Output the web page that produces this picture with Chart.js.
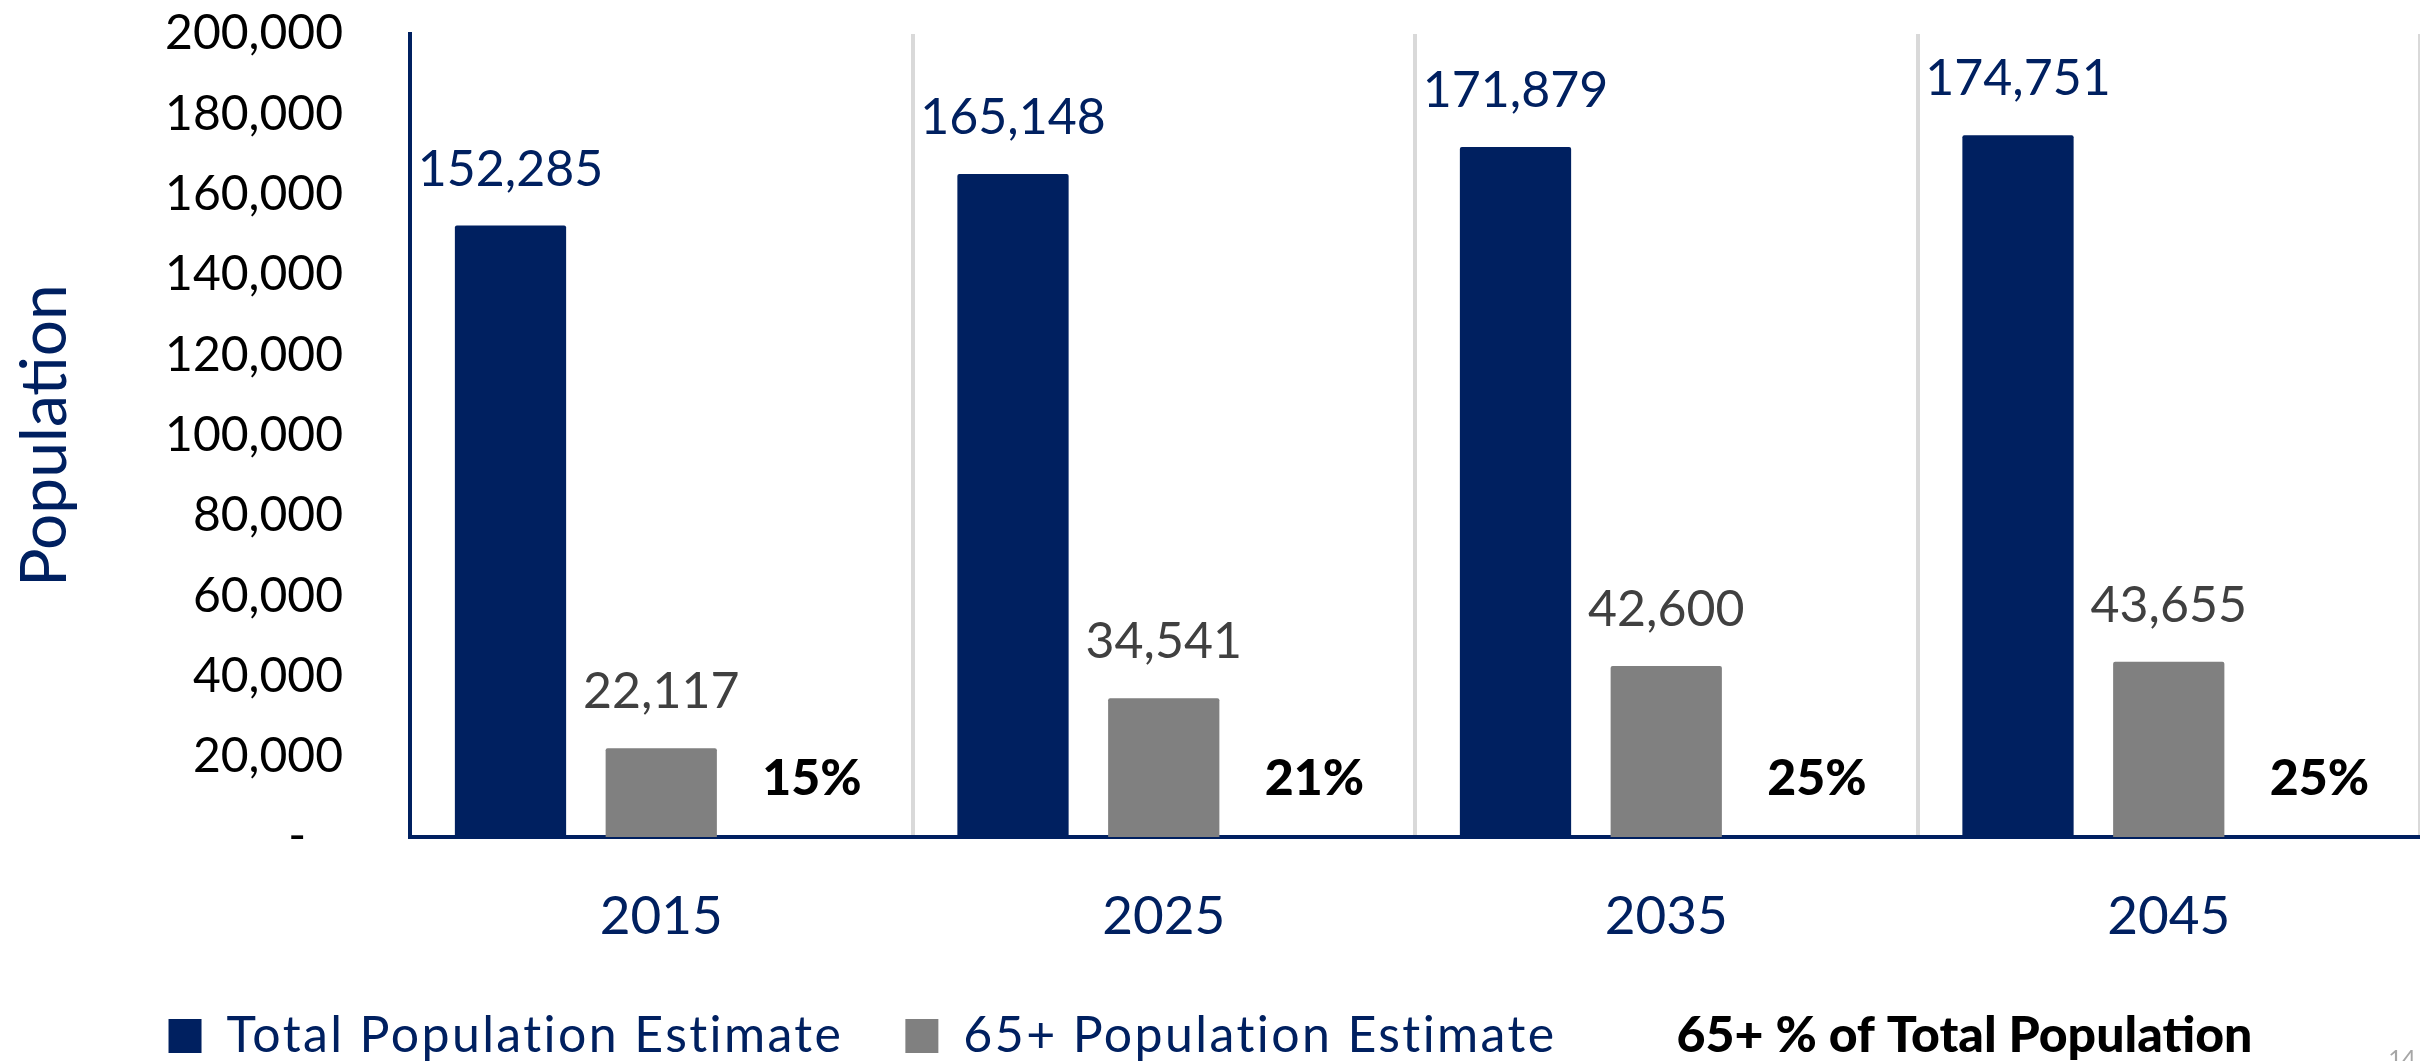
<!DOCTYPE html>
<html>
<head>
<meta charset="utf-8">
<title>Population Estimates</title>
<script src="https://cdn.jsdelivr.net/npm/chart.js@4/dist/chart.umd.min.js"></script>
<style>
  html, body { margin: 0; padding: 0; background: #ffffff; }
  #wrap { width: 2420px; height: 1061px; position: relative; }
</style>
</head>
<body>
<div id="wrap"><canvas id="popChart"></canvas></div>
<script>
// Categories and series
const years = ['2015', '2025', '2035', '2045'];
const totalPopulation = [152285, 165148, 171879, 174751];
const seniorPopulation = [22117, 34541, 42600, 43655];
const seniorShare = [15, 21, 25, 25];
const seriesNames = ['Total Population Estimate', '65+ Population Estimate', '65+ % of Total Population'];

// Axis range
const yMin = 0;
const yMax = 200000;
const yStep = 20000;

const NAVY = '#002060';
const GRAY = '#808080';
const LABEL_GRAY = '#404040';
const FONT = 'Lato';
const HEAVY = '900';

Chart.defaults.font.family = FONT;

// Value labels above the population bars and percentage labels near the base
const valueLabels = {
  id: 'valueLabels',
  afterDatasetsDraw(chart) {
    const ctx = chart.ctx;
    ctx.save();
    ctx.textAlign = 'center';
    ctx.textBaseline = 'alphabetic';
    chart.data.datasets.forEach((ds, di) => {
      const meta = chart.getDatasetMeta(di);
      meta.data.forEach((bar, i) => {
        const v = ds.data[i];
        if (ds.isShare) {
          ctx.font = HEAVY + ' 50px ' + FONT;
          ctx.fillStyle = '#000000';
          ctx.fillText(v + '%', bar.x, bar.base - 42);
        } else {
          ctx.font = '50px ' + FONT;
          ctx.fillStyle = ds.labelColor;
          ctx.fillText(v.toLocaleString('en-US'), bar.x, bar.y - 40);
        }
      });
    });
    ctx.restore();
  }
};

// Legend text: slightly tracked lettering, share entry in heavy weight
const legendStyling = {
  id: 'legendStyling',
  afterInit(chart) {
    const legend = chart.legend;
    if (!legend) return;
    const TRACKING = '2.4px';
    const baseFit = legend.fit;
    legend.fit = function () {
      const ctx = this.ctx;
      const prev = ctx.letterSpacing;
      ctx.letterSpacing = TRACKING;
      try { baseFit.apply(this, arguments); } finally { ctx.letterSpacing = prev || '0px'; }
    };
    const baseDraw = legend.draw;
    legend.draw = function () {
      const ctx = this.ctx;
      const items = this.legendItems || [];
      const baseFill = ctx.fillText;
      const prevSpacing = ctx.letterSpacing;
      ctx.letterSpacing = TRACKING;
      ctx.fillText = function (text) {
        const item = items.find(it => it.text === text);
        if (item && item.bold) {
          const prevFont = this.font;
          const prevLs = this.letterSpacing;
          this.font = HEAVY + ' ' + prevFont;
          this.letterSpacing = '0px';
          baseFill.apply(this, arguments);
          this.font = prevFont;
          this.letterSpacing = prevLs;
        } else {
          baseFill.apply(this, arguments);
        }
      };
      try {
        baseDraw.apply(this, arguments);
      } finally {
        delete ctx.fillText;
        ctx.letterSpacing = prevSpacing || '0px';
      }
    };
  }
};

// Slide page number in the lower right corner
const pageNumber = {
  id: 'pageNumber',
  afterDraw(chart) {
    const ctx = chart.ctx;
    ctx.save();
    ctx.font = '24px ' + FONT;
    ctx.fillStyle = '#A6A6A6';
    ctx.textAlign = 'right';
    ctx.textBaseline = 'alphabetic';
    ctx.fillText('14', chart.width - 4, chart.height + 6);
    ctx.restore();
  }
};

new Chart(document.getElementById('popChart'), {
  type: 'bar',
  data: {
    labels: years,
    datasets: [
      {
        label: seriesNames[0],
        data: totalPopulation,
        backgroundColor: NAVY,
        borderWidth: 0,
        borderRadius: 2,
        labelColor: NAVY,
        yAxisID: 'y'
      },
      {
        label: seriesNames[1],
        data: seniorPopulation,
        backgroundColor: GRAY,
        borderWidth: 0,
        borderRadius: 2,
        labelColor: LABEL_GRAY,
        yAxisID: 'y'
      },
      {
        label: seriesNames[2],
        data: seniorShare,
        backgroundColor: 'rgba(0,0,0,0)',
        borderWidth: 0,
        isShare: true,
        yAxisID: 'yShare'
      }
    ]
  },
  options: {
    responsive: true,
    maintainAspectRatio: false,
    animation: false,
    devicePixelRatio: 1,
    categoryPercentage: 0.90,
    barPercentage: 0.738,
    layout: { padding: { top: 34, right: 0, bottom: -10, left: 50 } },
    scales: {
      x: {
        z: 1,
        offset: true,
        grid: {
          display: true,
          offset: true,
          drawTicks: false,
          lineWidth: 4,
          color: (c) => (c.index === 0 || c.index === years.length) ? 'rgba(0,0,0,0)' : '#D9D9D9'
        },
        border: { display: true, color: NAVY, width: 4 },
        ticks: {
          color: NAVY,
          font: { family: FONT, size: 53 },
          padding: 48
        },
        afterFit(scale) { scale.height = 112; }
      },
      y: {
        min: yMin,
        max: yMax,
        grid: { display: false, drawTicks: true, tickLength: 64 },
        border: { display: true, color: NAVY, width: 4 },
        ticks: {
          stepSize: yStep,
          color: '#000000',
          font: { family: FONT, size: 48 },
          padding: 3,
          callback: (v) => v === 0 ? '-   ' : Number(v).toLocaleString('en-US')
        },
        title: {
          display: true,
          text: 'Population',
          color: NAVY,
          font: { family: FONT, size: 64 },
          padding: { top: -43, bottom: 0 }
        },
        afterFit(scale) { scale.width = 360; }
      },
      yShare: {
        display: false,
        min: 0,
        max: 100,
        grid: { display: false }
      }
    },
    plugins: {
      tooltip: { enabled: false },
      legend: {
        display: true,
        position: 'bottom',
        align: 'center',
        labels: {
          boxWidth: 33,
          boxHeight: 34,
          padding: 62,
          color: NAVY,
          font: { family: FONT, size: 50 },
          generateLabels(chart) {
            const base = Chart.defaults.plugins.legend.labels.generateLabels(chart);
            return base.map((item) => {
              const ds = chart.data.datasets[item.datasetIndex];
              if (ds.isShare) {
                item.fillStyle = 'rgba(0,0,0,0)';
                item.strokeStyle = 'rgba(0,0,0,0)';
                item.lineWidth = 0;
                item.fontColor = '#000000';
                item.bold = true;
              } else {
                item.fontColor = NAVY;
                item.lineWidth = 0;
              }
              return item;
            });
          }
        }
      }
    }
  },
  plugins: [valueLabels, legendStyling, pageNumber]
});
</script>
</body>
</html>
